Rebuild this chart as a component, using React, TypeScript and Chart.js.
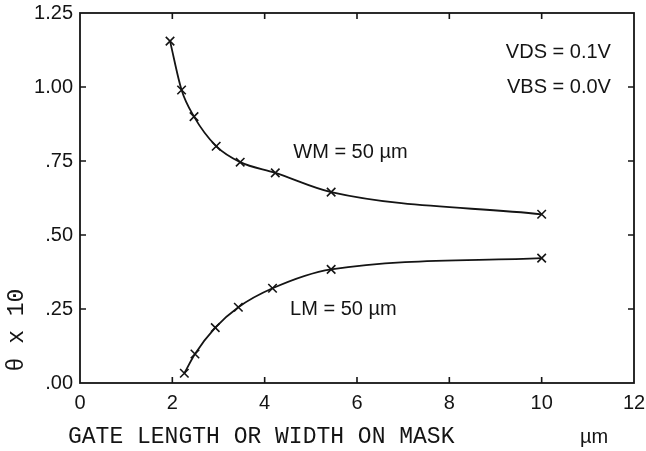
import React, { useEffect, useRef } from "react";
import { Chart, registerables } from "chart.js";
Chart.register(...registerables);

// WM = 50 µm curve (x: gate length on mask, y: theta x 10)
const wmX = [1.95, 2.2, 2.47, 2.95, 3.47, 4.23, 5.44, 10];
const wmY = [1.155, 0.99, 0.9, 0.8, 0.746, 0.71, 0.645, 0.57];
// LM = 50 µm curve
const lmX = [2.26, 2.49, 2.93, 3.43, 4.17, 5.44, 10];
const lmY = [0.033, 0.098, 0.187, 0.256, 0.32, 0.384, 0.422];

const xTicks = [0, 2, 4, 6, 8, 10, 12];
const yTicks = [0, 0.25, 0.5, 0.75, 1.0, 1.25];
const yTickLabels = [".00", ".25", ".50", ".75", "1.00", "1.25"];

const INK = "#141414";
const SANS = '"Liberation Sans", Arial, sans-serif';
const MONO = '"Liberation Mono", "DejaVu Sans Mono", monospace';

const framePlugin = {
  id: "frameTicks",
  afterDraw(chart: any) {
    const { ctx, chartArea: a, scales } = chart;
    const xs = scales.x;
    const ys = scales.y;
    ctx.save();
    ctx.strokeStyle = INK;
    ctx.lineWidth = 1.8;
    ctx.strokeRect(a.left, a.top, a.right - a.left, a.bottom - a.top);
    const t = 6;
    ctx.lineWidth = 1.6;
    ctx.beginPath();
    xTicks.slice(1, -1).forEach((v) => {
      const px = xs.getPixelForValue(v);
      ctx.moveTo(px, a.bottom);
      ctx.lineTo(px, a.bottom - t);
      ctx.moveTo(px, a.top);
      ctx.lineTo(px, a.top + t);
    });
    yTicks.slice(1, -1).forEach((v) => {
      const py = ys.getPixelForValue(v);
      ctx.moveTo(a.left, py);
      ctx.lineTo(a.left + t, py);
      ctx.moveTo(a.right, py);
      ctx.lineTo(a.right - t, py);
    });
    ctx.stroke();

    ctx.fillStyle = INK;
    ctx.textBaseline = "middle";
    ctx.font = "20px " + SANS;
    ctx.textAlign = "right";
    ctx.fillText("VDS = 0.1V", xs.getPixelForValue(11.5), ys.getPixelForValue(1.115));
    ctx.fillText("VBS = 0.0V", xs.getPixelForValue(11.5), ys.getPixelForValue(1.0));
    ctx.textAlign = "left";
    ctx.fillText("WM = 50 \u00b5m", xs.getPixelForValue(4.62), ys.getPixelForValue(0.78));
    ctx.fillText("LM = 50 \u00b5m", xs.getPixelForValue(4.55), ys.getPixelForValue(0.247));

    // axis titles
    ctx.font = "23px " + MONO;
    ctx.textAlign = "left";
    ctx.fillText("GATE LENGTH OR WIDTH ON MASK", 68, 437);
    ctx.font = "20px " + SANS;
    ctx.fillText("\u00b5m", 580, 437);
    ctx.save();
    ctx.translate(17, 330);
    ctx.rotate(-Math.PI / 2);
    ctx.textAlign = "center";
    ctx.font = "23px " + MONO;
    ctx.fillText("\u03b8 x 10", 0, 0);
    ctx.restore();
    ctx.restore();
  },
};

export default function App() {
  const ref = useRef<HTMLCanvasElement | null>(null);
  useEffect(() => {
    if (!ref.current) return;
    const mk = (xa: number[], ya: number[]) => xa.map((x, i) => ({ x, y: ya[i] }));
    const ds = (data: any) => ({
      data,
      borderColor: INK,
      backgroundColor: INK,
      borderWidth: 1.8,
      cubicInterpolationMode: "monotone",
      pointStyle: "crossRot",
      pointRadius: 6,
      pointBorderWidth: 1.6,
      pointBorderColor: INK,
      fill: false,
    });
    const chart = new Chart(ref.current, {
      type: "line",
      data: { datasets: [ds(mk(wmX, wmY)), ds(mk(lmX, lmY))] as any },
      options: {
        responsive: false,
        animation: false,
        layout: { padding: { top: 13, right: 12, left: 0, bottom: 0 } },
        plugins: { legend: { display: false }, tooltip: { enabled: false } },
        scales: {
          x: {
            type: "linear",
            min: 0,
            max: 12,
            afterBuildTicks: (s: any) => {
              s.ticks = xTicks.map((v) => ({ value: v }));
            },
            afterFit: (s: any) => {
              s.height = 68;
              s.paddingLeft = 0;
              s.paddingRight = 0;
            },
            grid: { display: false, drawTicks: false },
            border: { display: false },
            ticks: {
              color: INK,
              padding: 8,
              maxRotation: 0,
              font: { family: SANS, size: 20 },
              callback: (v: any) => String(v),
            },
          },
          y: {
            type: "linear",
            min: 0,
            max: 1.25,
            afterBuildTicks: (s: any) => {
              s.ticks = yTicks.map((v) => ({ value: v }));
            },
            afterFit: (s: any) => {
              s.width = 80;
              s.paddingTop = 0;
              s.paddingBottom = 0;
            },
            grid: { display: false, drawTicks: false },
            border: { display: false },
            ticks: {
              color: INK,
              padding: 7,
              font: { family: SANS, size: 20 },
              callback: (v: any) => {
                const i = yTicks.findIndex((t) => Math.abs(t - v) < 1e-6);
                return i >= 0 ? yTickLabels[i] : "";
              },
            },
          },
        },
      },
      plugins: [framePlugin],
    });
    return () => chart.destroy();
  }, []);
  return (
    <div style={{ position: "absolute", left: 0, top: 0, width: 646, height: 451, background: "#fff" }}>
      <canvas ref={ref} width={646} height={451} />
    </div>
  );
}
